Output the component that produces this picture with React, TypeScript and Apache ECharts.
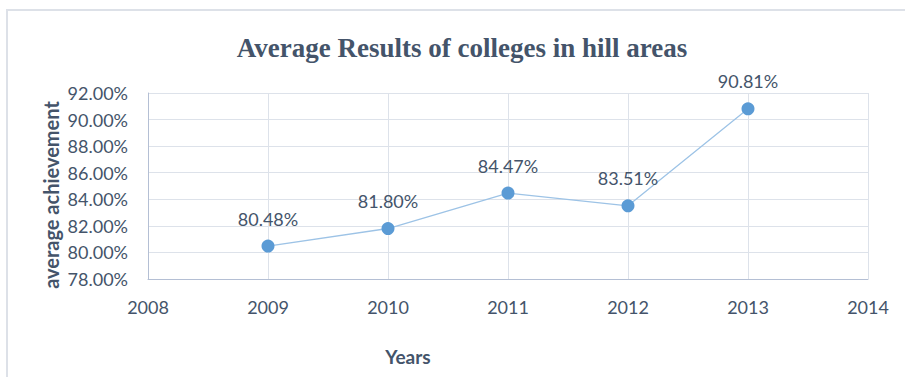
import React, { useEffect, useRef } from "react";
import * as echarts from "echarts";

const years = [2009, 2010, 2011, 2012, 2013];
const results = [80.48, 81.8, 84.47, 83.51, 90.81];
const xMin = 2008;
const xMax = 2014;
const yMin = 78;
const yMax = 92;
const yStep = 2;
const titleText = "Average Results of colleges in hill areas";
const yName = "average achievement";
const xName = "Years";

const TEXT = "#44546A";
const FONT = "Lato";

export default function App() {
  const ref = useRef<HTMLDivElement>(null);
  useEffect(() => {
    if (!ref.current) return;
    const chart = echarts.init(ref.current, undefined, { renderer: "svg" });
    chart.setOption({
      animation: false,
      backgroundColor: "#ffffff",
      grid: { left: 148, right: 37, top: 93, bottom: 98, containLabel: false },
      graphic: [
        {
          type: "rect",
          shape: { x: 7, y: 10, width: 920, height: 400 },
          style: { fill: "none", stroke: "#DDE1E8", lineWidth: 2 },
          silent: true,
        },
        {
          type: "text",
          x: 462,
          y: 48,
          style: {
            text: titleText,
            font: "bold 27px 'Liberation Serif'",
            fill: TEXT,
            textAlign: "center",
            textVerticalAlign: "middle",
          },
        },
        {
          type: "text",
          x: 51,
          y: 195,
          rotation: Math.PI / 2,
          style: {
            text: yName,
            font: `bold 20px ${FONT}`,
            fill: TEXT,
            textAlign: "center",
            textVerticalAlign: "middle",
          },
        },
        {
          type: "text",
          x: 408,
          y: 356,
          style: {
            text: xName,
            font: `bold 19px ${FONT}`,
            fill: TEXT,
            textAlign: "center",
            textVerticalAlign: "middle",
          },
        },
      ],
      xAxis: {
        type: "value",
        min: xMin,
        max: xMax,
        interval: 1,
        axisLine: { show: true, lineStyle: { color: "#B4BFD4", width: 1 } },
        axisTick: { show: false },
        axisLabel: {
          formatter: (v: number) => String(v),
          color: TEXT,
          fontFamily: FONT,
          fontSize: 18,
          margin: 19,
        },
        splitLine: { show: true, lineStyle: { color: "#DDE2EA", width: 1 } },
      },
      yAxis: {
        type: "value",
        min: yMin,
        max: yMax,
        interval: yStep,
        axisLine: { show: true, lineStyle: { color: "#B4BFD4", width: 1 } },
        axisTick: { show: false },
        axisLabel: {
          formatter: (v: number) => v.toFixed(2) + "%",
          color: TEXT,
          fontFamily: FONT,
          fontSize: 18,
          margin: 20,
        },
        splitLine: { show: true, lineStyle: { color: "#DDE2EA", width: 1 } },
      },
      series: [
        {
          type: "line",
          data: years.map((y, i) => [y, results[i]]),
          symbol: "circle",
          symbolSize: 13,
          itemStyle: { color: "#5B9BD5" },
          lineStyle: { color: "#9DC3E6", width: 1.3 },
          label: {
            show: true,
            position: "top",
            distance: 12,
            formatter: (p: any) => p.value[1].toFixed(2) + "%",
            color: TEXT,
            fontFamily: FONT,
            fontSize: 18,
          },
        },
      ],
    });
    return () => chart.dispose();
  }, []);
  return (
    <div
      ref={ref}
      style={{ position: "absolute", left: 0, top: 0, width: 905, height: 377 }}
    />
  );
}
